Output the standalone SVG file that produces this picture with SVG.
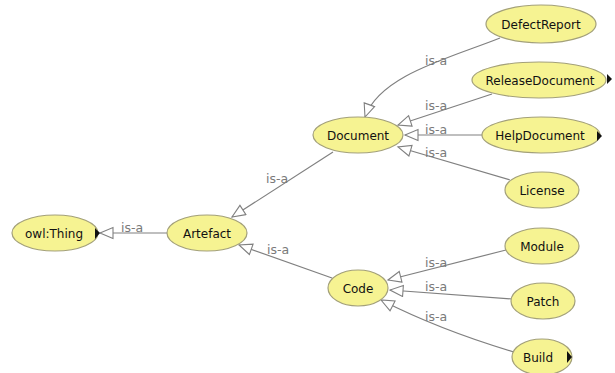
<svg xmlns="http://www.w3.org/2000/svg" width="615" height="373" viewBox="0 0 615 373">
<style>
.node ellipse{fill:#f6f392;stroke:#a3a07a;stroke-width:1.2}
.node text{font-family:"DejaVu Sans",sans-serif;font-size:12px;fill:#111;text-anchor:middle}
.node polygon{fill:#111}
.edge{fill:none;stroke:#808080;stroke-width:1.2;marker-end:url(#open)}
.lbl{font-family:"DejaVu Sans",sans-serif;font-size:12.5px;fill:#7a7a7a;text-anchor:middle}
</style>
<defs>
<marker id="open" markerUnits="userSpaceOnUse" markerWidth="18" markerHeight="14" refX="14" refY="6.5" orient="auto" viewBox="0 0 18 14">
<path d="M1,1 L14,6.5 L1,12 Z" fill="#fff" stroke="#808080" stroke-width="1.1"/>
</marker>
</defs>
<rect width="615" height="373" fill="#fff"/>
<g id="connectors">
<path class="edge" d="M167,233 L100,233"/>
<path class="edge" d="M333,152 L232,217"/>
<path class="edge" d="M332,278 L239,245"/>
<path class="edge" d="M500,38 C450,58 380,75 365,117"/>
<path class="edge" d="M492,94 L398,125"/>
<path class="edge" d="M482,135 L405,135"/>
<path class="edge" d="M510,180 L398,147"/>
<path class="edge" d="M506,250 L388,280"/>
<path class="edge" d="M512,299 L390,290"/>
<path class="edge" d="M514,352 Q440,330 381,300"/>
<text class="lbl" x="132" y="232">is-a</text>
<text class="lbl" x="277" y="183">is-a</text>
<text class="lbl" x="278" y="254">is-a</text>
<text class="lbl" x="436" y="65">is-a</text>
<text class="lbl" x="436" y="110">is-a</text>
<text class="lbl" x="436" y="134">is-a</text>
<text class="lbl" x="436" y="157">is-a</text>
<text class="lbl" x="436" y="267">is-a</text>
<text class="lbl" x="436" y="291">is-a</text>
<text class="lbl" x="436" y="321">is-a</text>
</g>
<g id="owlThing" class="node"><ellipse cx="55" cy="233" rx="43" ry="18"/><text x="54" y="237.5">owl:Thing</text><polygon points="95,228 100,233 95,239"/></g>
<g id="Artefact" class="node"><ellipse cx="207" cy="233" rx="40" ry="18"/><text x="207" y="237.5">Artefact</text></g>
<g id="Document" class="node"><ellipse cx="358" cy="135" rx="45" ry="18"/><text x="358" y="139.5">Document</text></g>
<g id="Code" class="node"><ellipse cx="358" cy="288" rx="30" ry="18"/><text x="358" y="292.5">Code</text></g>
<g id="DefectReport" class="node"><ellipse cx="541" cy="24" rx="55" ry="19"/><text x="541" y="28.5">DefectReport</text></g>
<g id="ReleaseDocument" class="node"><ellipse cx="539" cy="80" rx="67" ry="18"/><text x="540" y="84.5">ReleaseDocument</text><polygon points="607,74 612,79 607,84"/></g>
<g id="HelpDocument" class="node"><ellipse cx="541" cy="135" rx="59" ry="18"/><text x="540" y="139.5">HelpDocument</text><polygon points="597,131 602,136 597,141"/></g>
<g id="License" class="node"><ellipse cx="542" cy="190" rx="37" ry="18"/><text x="542" y="194.5">License</text></g>
<g id="Module" class="node"><ellipse cx="542" cy="246" rx="37" ry="18"/><text x="542" y="250.5">Module</text></g>
<g id="Patch" class="node"><ellipse cx="543" cy="301" rx="32" ry="18"/><text x="543" y="305.5">Patch</text></g>
<g id="Build" class="node"><ellipse cx="542" cy="357" rx="30" ry="18"/><text x="538" y="361.5">Build</text><polygon points="567,351 572,357 567,363"/></g>
</svg>
